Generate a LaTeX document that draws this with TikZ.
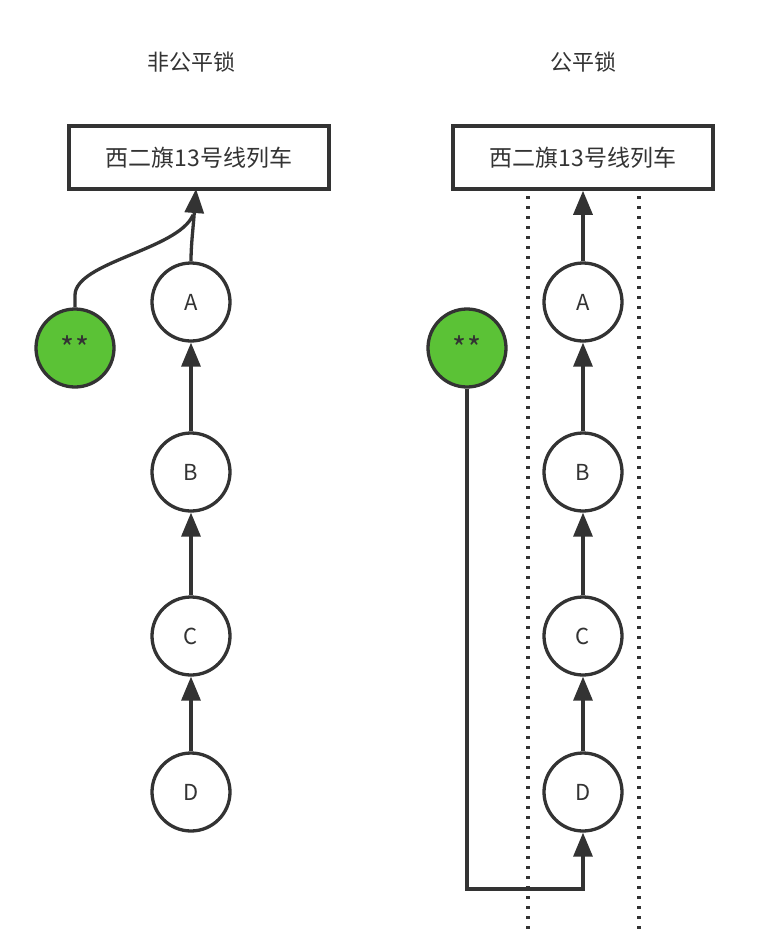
\documentclass[tikz,border=0pt]{standalone}
\usepackage{fontspec}
\setmainfont{Noto Sans CJK SC}
\usetikzlibrary{arrows.meta}
\definecolor{ink}{HTML}{333333}
\definecolor{grn}{HTML}{5BC236}
\begin{document}
\begin{tikzpicture}[x=1pt,y=-1pt,
  every node/.style={text=ink},
  boxnode/.style={draw=ink,line width=3.5pt,minimum width=260pt,minimum height=63pt,font=\fontsize{23}{24}\selectfont,inner sep=0pt},
  circ/.style={circle,draw=ink,line width=3.3pt,minimum size=78pt,inner sep=0pt,fill=white,font=\fontsize{22}{24}\selectfont},
  gcirc/.style={circ,fill=grn,font=\fontsize{30}{30}\selectfont},
  titlenode/.style={font=\fontsize{22}{24}\selectfont},
  arr/.style={draw=ink,line width=3.3pt,-{Triangle[length=24pt,width=19pt]}},
  ln/.style={draw=ink,line width=3.3pt},
  dots/.style={draw=ink,line width=3.3pt,dash pattern=on 3pt off 7pt}]
\useasboundingbox (0,0) rectangle (772,930);
\fill[white] (0,0) rectangle (772,930);
% titles
\node[titlenode] (t1) at (191,62) {非公平锁};
\node[titlenode] (t2) at (583,62) {公平锁};
% left
\node[boxnode] (boxL) at (199,157.5) {西二旗13号线列车};
\node[circ] (LA) at (191,302) {A};
\node[circ] (LB) at (191,472) {B};
\node[circ] (LC) at (191,636) {C};
\node[circ] (LD) at (191,792) {D};
\node[gcirc] (LG) at (75,348) {\raisebox{-6pt}{**}};
\coordinate (tipL) at (196,189);
\draw[ln] (LG.north) -- ++(0,-12) .. controls (75,262) and (178,250) .. (193,215);
\draw[arr] (LA.north) .. controls (191,245) and (193,230) .. (tipL);
\draw[arr] (LB) -- (LA);
\draw[arr] (LC) -- (LB);
\draw[arr] (LD) -- (LC);
% right
\node[boxnode] (boxR) at (583,157.5) {西二旗13号线列车};
\coordinate (d1t) at (528,196);
\coordinate (d1b) at (528,930);
\coordinate (d2t) at (639,196);
\coordinate (d2b) at (639,930);
\draw[dots] (d1t) -- (d1b);
\draw[dots] (d2t) -- (d2b);
\node[circ] (RA) at (583,302) {A};
\node[circ] (RB) at (583,472) {B};
\node[circ] (RC) at (583,636) {C};
\node[circ] (RD) at (583,792) {D};
\node[gcirc] (RG) at (467,348) {\raisebox{-6pt}{**}};
\draw[arr] (RA) -- (boxR);
\draw[arr] (RB) -- (RA);
\draw[arr] (RC) -- (RB);
\draw[arr] (RD) -- (RC);
\coordinate (corner) at (467,889);
\draw[arr] (RG.south) -- (corner) -| (RD.south);
\end{tikzpicture}
\end{document}
